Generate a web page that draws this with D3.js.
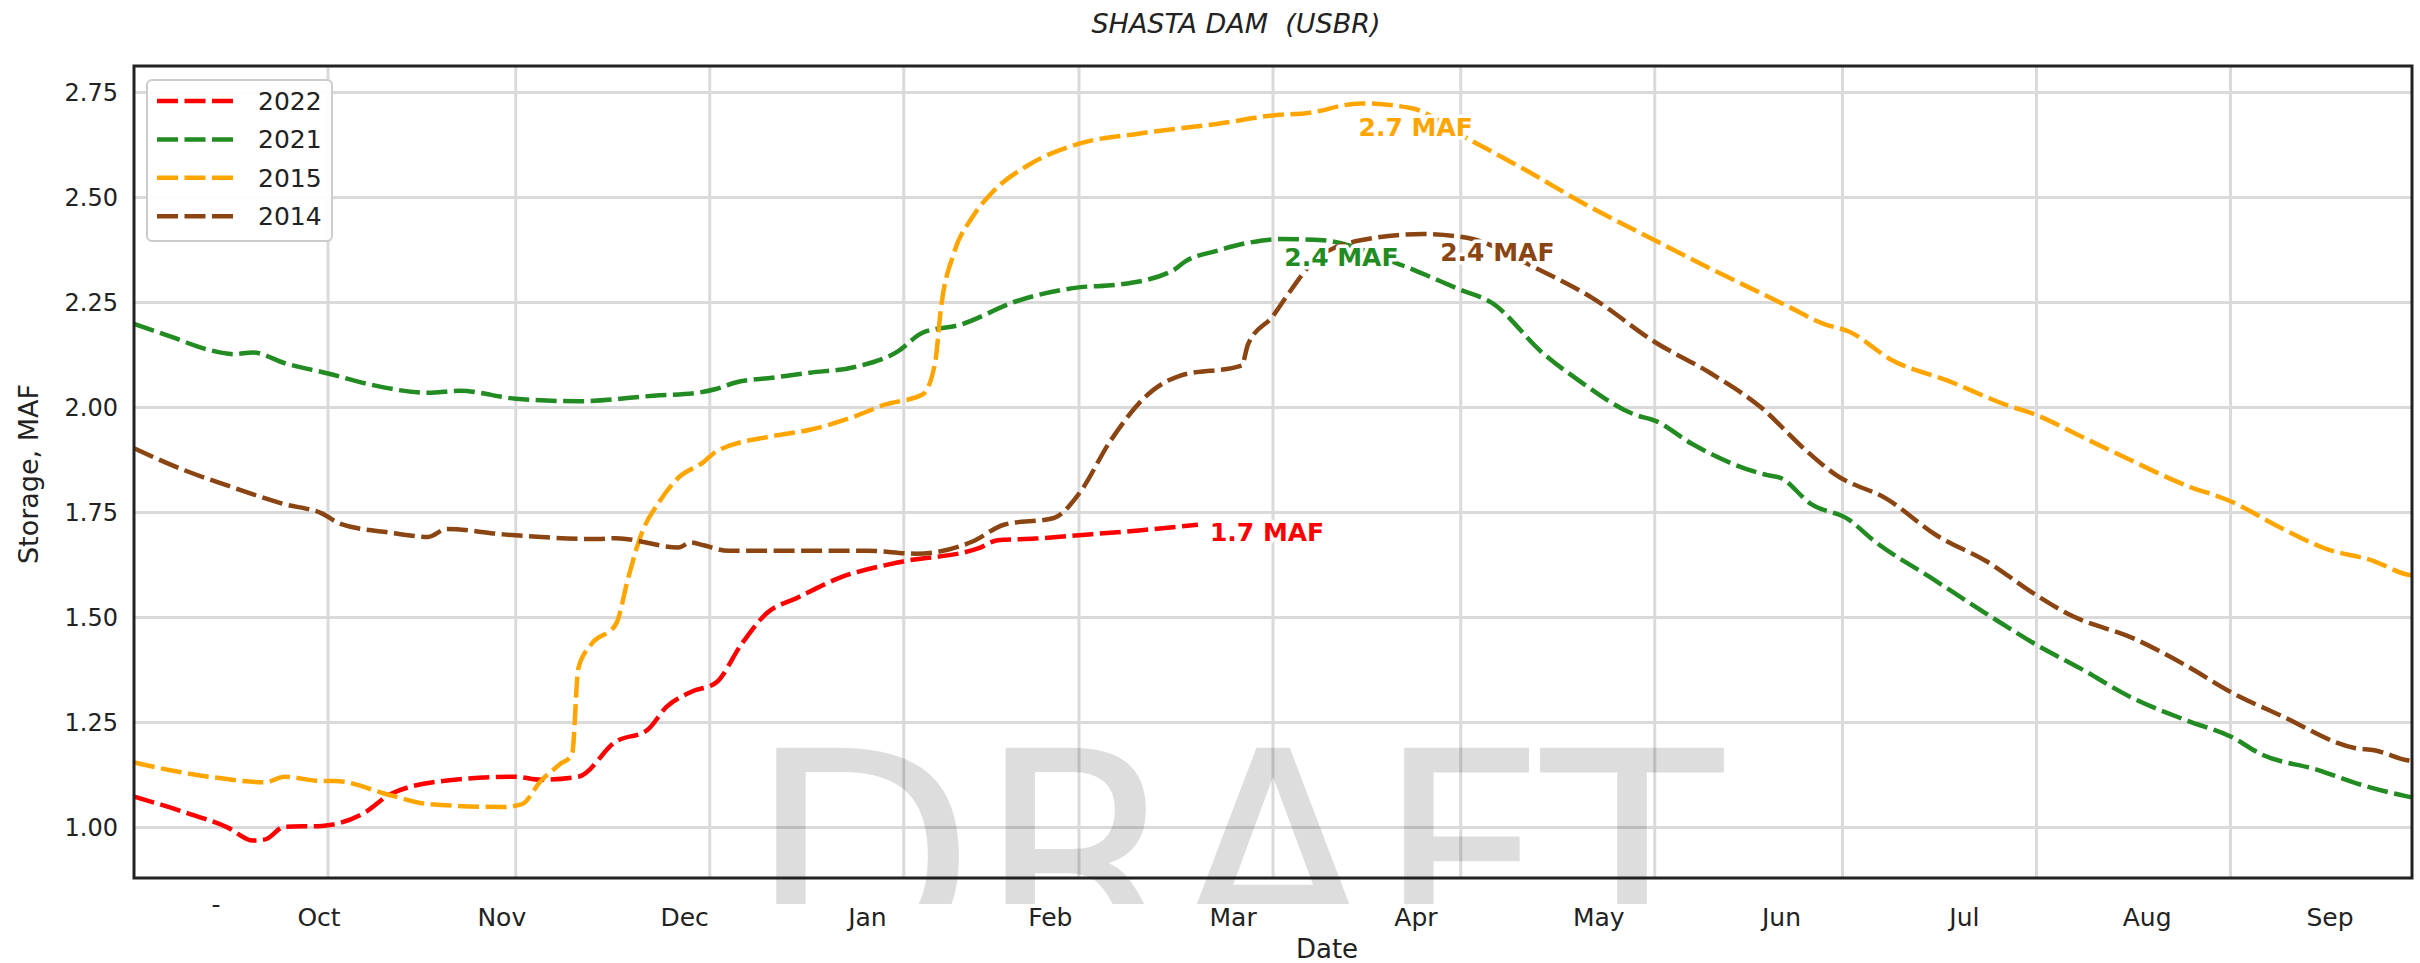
<!DOCTYPE html>
<html><head><meta charset="utf-8">
<script src="https://cdn.jsdelivr.net/npm/d3@7"></script>
<style>body{margin:0;background:#fff}</style>
</head><body><svg id="chart" width="2420" height="963"></svg>
<script>
// ---------------- data ----------------
const seriesNames  = ["2022", "2021", "2015", "2014"];
const seriesColors = ["#ff0000", "#228b22", "#ffa500", "#8b4513"];

const dates2022   = ["10-01","10-09","10-16","10-20","10-22","10-25","10-31","11-07","11-11","11-20","12-01","12-05","12-11","12-17","12-22","12-25","12-29","01-02","01-06","01-10","01-15","01-22","01-31","02-13","02-16","02-22","03-01","03-11","03-20"];
const storage2022 = [1.074,1.037,1.000,0.969,0.972,1.002,1.004,1.037,1.080,1.112,1.121,1.114,1.121,1.205,1.232,1.286,1.323,1.345,1.435,1.509,1.547,1.596,1.631,1.665,1.684,1.688,1.696,1.708,1.721];

const dates2021   = ["10-01","10-07","10-13","10-17","10-20","10-25","11-01","11-08","11-17","11-22","12-01","12-11","12-23","12-30","01-02","01-05","01-11","01-17","01-24","01-31","02-04","02-10","02-19","03-01","03-07","03-16","03-18","03-23","03-28","04-02","04-09","04-21","05-01","05-06","05-14","05-20","05-29","06-01","06-07","06-19","06-21","06-26","07-02","07-06","07-15","07-24","08-01","08-08","08-16","08-25","09-01","09-06","09-15","09-21","09-29","09-30"];
const storage2021 = [2.199,2.168,2.137,2.127,2.131,2.106,2.081,2.054,2.035,2.040,2.021,2.015,2.028,2.035,2.044,2.059,2.071,2.083,2.096,2.133,2.178,2.197,2.253,2.286,2.292,2.326,2.348,2.373,2.392,2.401,2.398,2.342,2.280,2.249,2.131,2.063,1.982,1.969,1.913,1.839,1.833,1.770,1.733,1.683,1.596,1.509,1.435,1.379,1.311,1.255,1.217,1.174,1.137,1.106,1.075,1.072];

const dates2015   = ["10-01","10-07","10-13","10-22","10-25","10-31","11-02","11-11","11-17","11-29","12-02","12-05","12-08","12-10","12-11","12-13","12-17","12-19","12-21","12-24","12-27","12-31","01-02","01-11","01-17","01-24","01-29","02-04","02-06","02-07","02-09","02-12","02-15","02-21","03-01","03-11","03-23","04-02","04-06","04-15","04-23","05-02","05-12","05-20","06-01","06-10","06-22","06-28","07-02","07-09","07-18","07-27","08-01","08-08","08-15","08-25","09-01","09-09","09-16","09-24","09-29","09-30"];
const storage2015 = [1.155,1.136,1.121,1.108,1.121,1.111,1.111,1.077,1.056,1.049,1.056,1.111,1.150,1.174,1.379,1.435,1.484,1.596,1.696,1.777,1.833,1.870,1.895,1.932,1.947,1.978,2.007,2.031,2.106,2.243,2.367,2.454,2.510,2.578,2.628,2.653,2.675,2.697,2.700,2.724,2.713,2.641,2.560,2.491,2.398,2.330,2.243,2.199,2.181,2.112,2.063,2.007,1.982,1.932,1.882,1.814,1.777,1.714,1.665,1.634,1.603,1.600];

const dates2014   = ["10-01","10-09","10-16","10-25","10-31","11-03","11-11","11-17","11-20","11-29","12-14","12-17","12-27","12-29","12-31","01-04","01-17","01-26","02-03","02-12","02-17","02-25","03-01","03-06","03-12","03-17","03-27","03-28","04-01","04-03","04-08","04-15","04-25","05-02","05-13","05-22","06-01","06-10","06-18","06-25","06-30","07-08","07-16","07-24","08-01","08-06","08-17","08-25","09-01","09-09","09-21","09-24","09-29","09-30"];
const storage2014 = [1.903,1.851,1.814,1.770,1.748,1.723,1.702,1.692,1.711,1.698,1.687,1.689,1.667,1.679,1.672,1.659,1.659,1.659,1.652,1.681,1.721,1.737,1.795,1.920,2.031,2.075,2.100,2.150,2.218,2.261,2.355,2.398,2.413,2.404,2.332,2.261,2.156,2.081,2.000,1.900,1.839,1.783,1.696,1.634,1.553,1.509,1.447,1.385,1.323,1.267,1.189,1.184,1.161,1.158];

const monthLabels = ["Oct","Nov","Dec","Jan","Feb","Mar","Apr","May","Jun","Jul","Aug","Sep"];
const yTicks = [1.00, 1.25, 1.50, 1.75, 2.00, 2.25, 2.50, 2.75];

// ---------------- helpers ----------------
const toDate = md => { const [m, d] = md.split("-").map(Number); return new Date(m >= 10 ? 2021 : 2022, m - 1, d); };
const allDates = [dates2022, dates2021, dates2015, dates2014];
const allVals  = [storage2022, storage2021, storage2015, storage2014];
const series = seriesNames.map((name, i) => ({
  name, color: seriesColors[i],
  points: allDates[i].map((d, j) => ({ date: toDate(d), value: allVals[i][j] }))
}));

// ---------------- layout ----------------
const W = 2420, H = 963;
const L = 134, R = 2412, T = 66, B = 878;
const FONT = "'DejaVu Sans', 'Liberation Sans', sans-serif";

const svg = d3.select("#chart");
svg.append("rect").attr("width", W).attr("height", H).attr("fill", "#fff");

const x = d3.scaleTime().domain([new Date(2021, 9, 1), new Date(2022, 8, 30)]).range([L, R]);
const y = d3.scaleLinear().domain([0.88, 2.813]).range([B, T]);

// grid
const grid = svg.append("g");
grid.selectAll("line.h").data(yTicks).join("line")
  .attr("x1", L).attr("x2", R).attr("y1", d => y(d)).attr("y2", d => y(d))
  .attr("stroke", "#dadada").attr("stroke-width", 3);
const monthStarts = d3.timeMonth.range(new Date(2021, 10, 1), new Date(2022, 8, 2));
grid.selectAll("line.v").data(monthStarts).join("line")
  .attr("x1", d => x(d)).attr("x2", d => x(d)).attr("y1", T).attr("y2", B)
  .attr("stroke", "#dadada").attr("stroke-width", 3);

// watermark
svg.append("clipPath").attr("id", "wmclip").append("rect")
  .attr("x", 0).attr("y", 0).attr("width", W).attr("height", 904);
svg.append("text").attr("clip-path", "url(#wmclip)")
  .attr("x", 747).attr("y", 965)
  .attr("textLength", 976).attr("lengthAdjust", "spacing")
  .attr("font-family", FONT).attr("font-size", 298)
  .attr("fill", "#000").attr("fill-opacity", 0.135)
  .text("DRAFT");

// lines
const line = d3.line().x(d => x(d.date)).y(d => y(d.value)).curve(d3.curveMonotoneX);
const plot = svg.append("g");
plot.selectAll("path.series").data(series).join("path")
  .attr("d", d => line(d.points))
  .attr("fill", "none").attr("stroke", d => d.color)
  .attr("stroke-width", 4.5).attr("stroke-dasharray", "21,6.5");

// annotations (value at peak / last point)
const annotOffsets = { "2022": [12, 16], "2021": [5, 27], "2015": [-2, 33], "2014": [17, 27] };
series.forEach(s => {
  const p = s.name === "2022" ? s.points[s.points.length - 1] : s.points.reduce((a, b) => (b.value > a.value ? b : a));
  const [dx, dy] = annotOffsets[s.name];
  svg.append("text")
    .attr("x", x(p.date) + dx).attr("y", y(p.value) + dy)
    .attr("font-family", FONT).attr("font-size", 25).attr("font-weight", "bold")
    .attr("fill", s.color).attr("stroke", "#fff").attr("stroke-width", 7)
    .attr("stroke-linejoin", "round").attr("paint-order", "stroke")
    .text(p.value.toFixed(1) + " MAF");
});

// frame
svg.append("rect").attr("x", L).attr("y", T).attr("width", R - L).attr("height", B - T)
  .attr("fill", "none").attr("stroke", "#222").attr("stroke-width", 3);

// y tick labels
svg.selectAll("text.ytick").data(yTicks).join("text")
  .attr("x", 118).attr("y", d => y(d)).attr("dy", "0.36em")
  .attr("text-anchor", "end").attr("font-family", FONT).attr("font-size", 24).attr("fill", "#222")
  .text(d => d.toFixed(2));

// x tick labels (month names)
const labelX = d3.scaleLinear().domain([0, monthLabels.length - 1]).range([319, 2330]);
svg.selectAll("text.xtick").data(monthLabels).join("text")
  .attr("x", (d, i) => labelX(i)).attr("y", 926)
  .attr("text-anchor", "middle").attr("font-family", FONT).attr("font-size", 25).attr("fill", "#222")
  .text(d => d);
svg.append("text").attr("x", 216).attr("y", 913).attr("text-anchor", "middle")
  .attr("font-family", FONT).attr("font-size", 25).attr("fill", "#222").text("-");

// axis titles
svg.append("text").attr("x", 1327).attr("y", 958).attr("text-anchor", "middle")
  .attr("font-family", FONT).attr("font-size", 26).attr("fill", "#222").text("Date");
svg.append("text").attr("transform", "translate(38,474) rotate(-90)").attr("text-anchor", "middle")
  .attr("font-family", FONT).attr("font-size", 27).attr("fill", "#222").text("Storage, MAF");

// title
svg.append("text").attr("x", 1236).attr("y", 33).attr("text-anchor", "middle")
  .attr("font-family", FONT).attr("font-size", 27).attr("font-style", "italic").attr("fill", "#222")
  .style("white-space", "pre").text("SHASTA DAM  (USBR)");

// legend
const lg = svg.append("g");
lg.append("rect").attr("x", 147).attr("y", 80).attr("width", 185).attr("height", 161).attr("rx", 5)
  .attr("fill", "#fff").attr("fill-opacity", 0.9).attr("stroke", "#cccccc").attr("stroke-width", 2);
series.forEach((s, i) => {
  const ly = 101 + i * 38.4;
  lg.append("line").attr("x1", 157).attr("x2", 236).attr("y1", ly).attr("y2", ly)
    .attr("stroke", s.color).attr("stroke-width", 4.5).attr("stroke-dasharray", "21,6.5");
  lg.append("text").attr("x", 258).attr("y", ly).attr("dy", "0.36em")
    .attr("font-family", FONT).attr("font-size", 25).attr("fill", "#222").text(s.name);
});
</script></body></html>
